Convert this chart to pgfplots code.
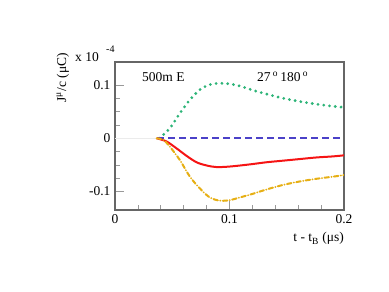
\documentclass[border=0pt]{standalone}
\usepackage{fontspec}
\setmainfont{Liberation Serif}
\usepackage{pgfplots}
\pgfplotsset{compat=1.18}
\definecolor{cgreen}{RGB}{45,180,120}
\definecolor{cblue}{RGB}{75,65,200}
\definecolor{cred}{RGB}{245,20,20}
\definecolor{corange}{RGB}{230,175,20}
\begin{document}
\begin{tikzpicture}[x=1pt,y=1pt]
\useasboundingbox (0,0) rectangle (389,292);
\begin{axis}[at={(115pt,82pt)}, anchor=south west, scale only axis,
  width=229pt, height=148pt,
  xmin=0, xmax=0.2, ymin=-0.1345, ymax=0.143,
  axis line style={draw=black!60, line width=1.2pt},
  xtick={0,0.1,0.2}, ytick={-0.1,0,0.1},
  xticklabels={0,0.1,0.2}, yticklabels={-0.1,0,0.1},
  minor x tick num=4, minor y tick num=3,
  tick align=inside, tick pos=left,
  major tick length=9pt, minor tick length=5pt,
  tick style={black!40, line width=0.6pt},
  ticklabel style={font=\fontsize{13.5}{16}\selectfont},
  xticklabel style={yshift=-1pt},
  yticklabel style={xshift=-1pt},
  /pgf/number format/assume math mode=true,
]
\addplot[black!8, line width=0.8pt] coordinates {(0,0) (0.037,0)};
\addplot[cgreen, line width=3.1pt, line cap=round, dash pattern=on 0pt off 5.8pt, smooth] coordinates {
(0.0387,0) (0.048,0.019) (0.0567,0.047) (0.0654,0.072) (0.0741,0.091) (0.0828,0.1006) (0.0901,0.1031) (0.1003,0.1019) (0.109,0.098) (0.1206,0.090) (0.1323,0.083) (0.1468,0.075) (0.1613,0.069) (0.1759,0.064) (0.1904,0.060) (0.2,0.0581)};
\addplot[cblue, line width=2pt, dash pattern=on 7pt off 4pt] coordinates {(0.037,0) (0.2,0)};
\addplot[cred, line width=2pt, smooth] coordinates {
(0.0363,0) (0.045,-0.006) (0.0538,-0.019) (0.0625,-0.033) (0.0712,-0.045) (0.0799,-0.051) (0.0886,-0.054) (0.1003,-0.053) (0.1177,-0.049) (0.1323,-0.045) (0.1468,-0.042) (0.1613,-0.039) (0.1759,-0.036) (0.1904,-0.034) (0.2,-0.032)};
\addplot[corange, line width=2pt, line cap=round, dash pattern=on 4.5pt off 2.5pt on 0pt off 2.5pt, smooth] coordinates {
(0.0363,0) (0.0422,-0.003) (0.048,-0.016) (0.0567,-0.041) (0.0654,-0.072) (0.0741,-0.094) (0.0828,-0.111) (0.0916,-0.117) (0.1003,-0.116) (0.109,-0.111) (0.1206,-0.104) (0.1323,-0.096) (0.1468,-0.0875) (0.1613,-0.081) (0.1759,-0.076) (0.1904,-0.072) (0.2,-0.069)};
\end{axis}
\begin{scope}[every node/.style={font=\fontsize{13.5}{16}\selectfont, inner sep=0pt}]
\node[anchor=base west] at (142,210) {500m E};
\node[anchor=base west] at (257,210) {27\,\textsuperscript{o}\,180\,\textsuperscript{o}};
\node[anchor=base east] at (344,50) {t - t\textsubscript{B} (μs)};
\node[anchor=base west] at (75,230) {x 10};
\node[anchor=base west, font=\fontsize{10}{12}\selectfont] at (106,239) {-4};
\node[rotate=90, anchor=base east] at (66,239) {J\textsuperscript{μ}/c (μC)};
\end{scope}
\end{tikzpicture}
\end{document}
